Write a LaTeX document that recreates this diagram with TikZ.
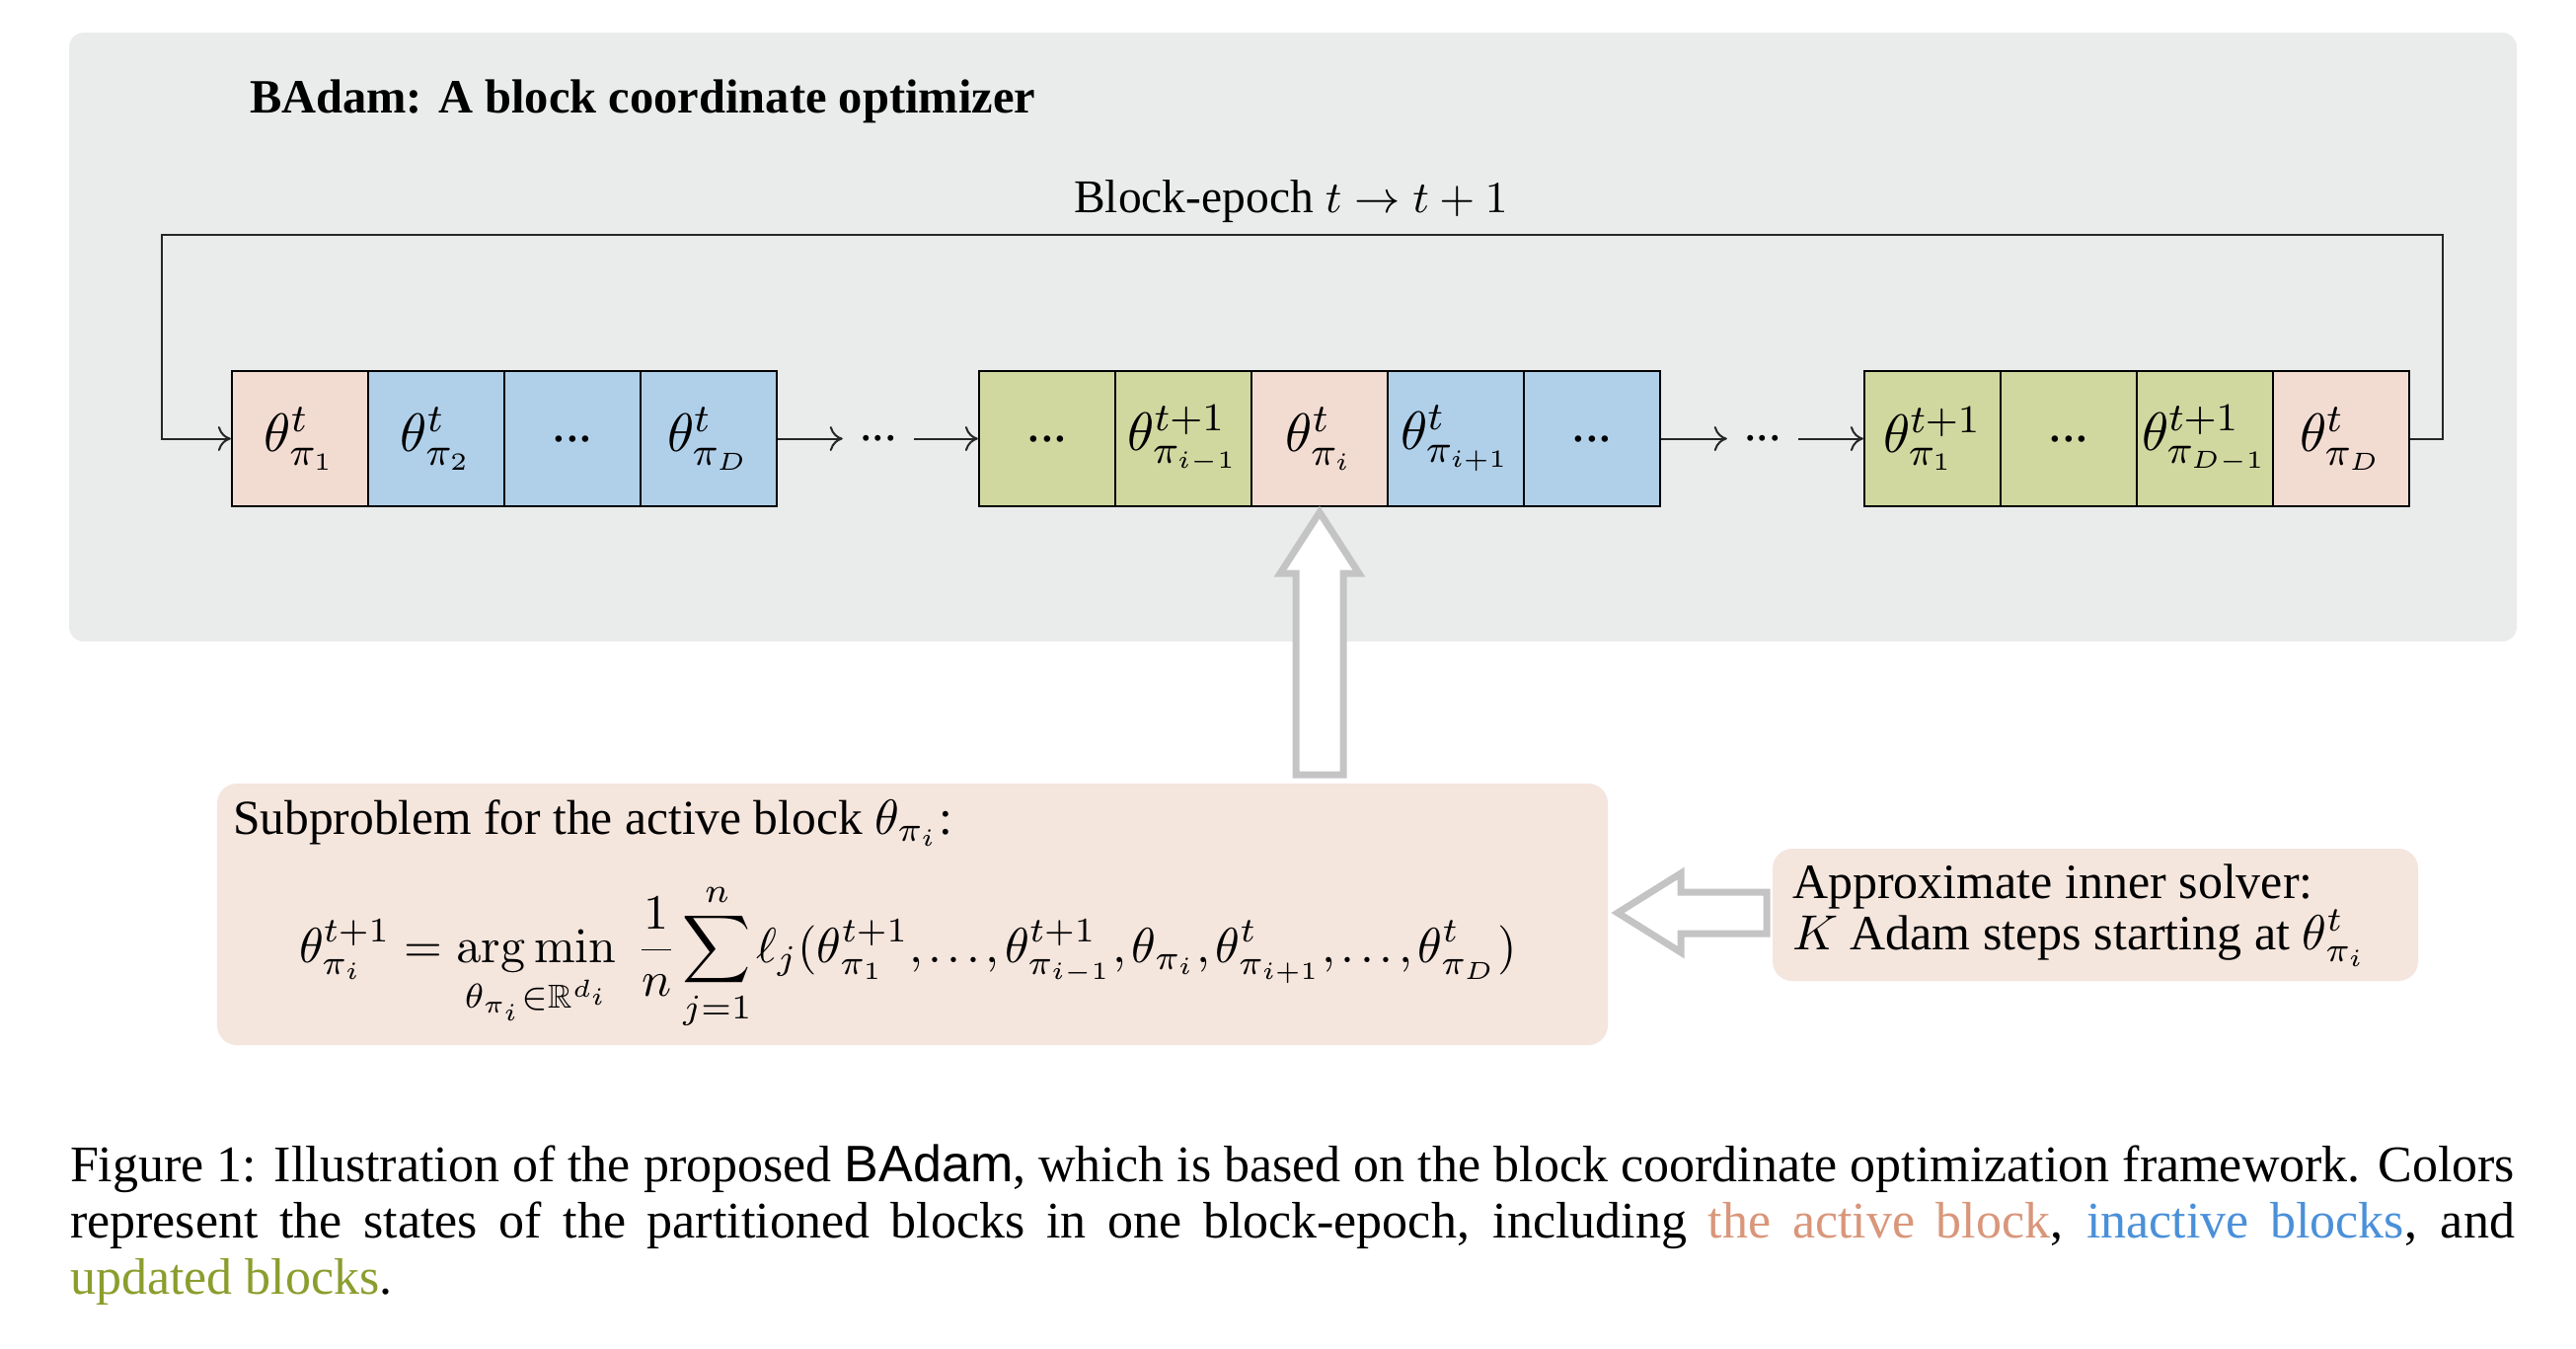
\documentclass[tikz,border=0pt]{standalone}
\usepackage{amsmath,amssymb}
\usepackage[no-math]{fontspec}
\setmainfont{Liberation Serif}
\newfontfamily\capsans{Liberation Sans}
\usetikzlibrary{arrows.meta,calc}
\definecolor{bggray}{RGB}{234,235,235}
\definecolor{cpink}{RGB}{242,220,210}
\definecolor{cblue}{RGB}{176,208,234}
\definecolor{cgreen}{RGB}{208,216,160}
\definecolor{boxpink}{RGB}{244,229,221}
\definecolor{arrgray}{RGB}{196,196,196}
\definecolor{activec}{RGB}{217,150,122}
\definecolor{inactivec}{RGB}{74,144,217}
\definecolor{updatedc}{RGB}{138,158,46}
\tikzset{
  cell/.style={draw=black, line width=0.45pt, minimum width=27.6pt, minimum height=27.4pt, inner sep=0pt, font=\fontsize{11}{13}\selectfont},
  pinkcell/.style={cell, fill=cpink},
  bluecell/.style={cell, fill=cblue},
  greencell/.style={cell, fill=cgreen},
  conn/.style={draw=black!85, line width=0.4pt, -{To[length=2.6pt,width=5pt]}},
  hollow/.style={draw=arrgray, line width=1.4pt, fill=white, line join=miter},
  dotsnode/.style={inner xsep=3.3pt, inner ysep=0pt, font=\fontsize{10}{12}\selectfont},
  softbox/.style={fill=boxpink, rounded corners=4pt, inner sep=0pt},
  txt/.style={inner sep=0pt, anchor=base west},
}
\begin{document}
\begin{tikzpicture}[x=0.2pt,y=-0.2pt]
\useasboundingbox[fill=white] (0,0) rectangle (2610,1366);
% grey panel
\fill[bggray, rounded corners=3pt] (70,33) rectangle (2550,650);
\node[txt, font=\fontsize{9.7}{11}\selectfont\bfseries] (title) at (252,114) {BAdam: A block coordinate optimizer};
\node[inner sep=0pt, anchor=base, font=\fontsize{9.5}{11}\selectfont] (epoch) at (1308,215) {Block-epoch $t \to t+1$};
% group 1
\node[pinkcell]  (a1) at (304,444.5) {$\theta^{t}_{\pi_1}$};
\node[bluecell]  (a2) at (442,444.5) {$\theta^{t}_{\pi_2}$};
\node[bluecell]  (a3) at (580,444.5) {...};
\node[bluecell]  (a4) at (718,444.5) {$\theta^{t}_{\pi_D}$};
% group 2
\node[greencell] (b1) at (1061,444.5) {...};
\node[greencell] (b2) at (1199,444.5) {$\theta^{t+1}_{\pi_{i-1}}$};
\node[pinkcell]  (b3) at (1337,444.5) {$\theta^{t}_{\pi_i}$};
\node[bluecell]  (b4) at (1475,444.5) {$\theta^{t}_{\pi_{i+1}}$};
\node[bluecell]  (b5) at (1613,444.5) {...};
% group 3
\node[greencell] (c1) at (1958,444.5) {$\theta^{t+1}_{\pi_1}$};
\node[greencell] (c2) at (2096,444.5) {...};
\node[greencell] (c3) at (2234,444.5) {$\theta^{t+1}_{\pi_{D-1}}$};
\node[pinkcell]  (c4) at (2372,444.5) {$\theta^{t}_{\pi_D}$};
% dots between groups
\node[dotsnode] (d1) at (890,444.5) {...};
\node[dotsnode] (d2) at (1786,444.5) {...};
\draw[conn] (a4.east) -- (d1.west);
\draw[conn] (d1.east) -- (b1.west);
\draw[conn] (b5.east) -- (d2.west);
\draw[conn] (d2.east) -- (c1.west);
% loop
\coordinate (loopR) at (2475,238);
\coordinate (loopL) at (164,238);
\draw[conn] (c4.east) -| (loopR) -- (loopL) |- (a1.west);
% subproblem box
\node[softbox, minimum width=281.8pt, minimum height=53pt] (sub) at (924.5,926.5) {};
\node[txt, font=\fontsize{9.9}{12}\selectfont] (subt) at (235,845) {Subproblem for the active block $\theta_{\pi_i}$:};
\node[txt, font=\fontsize{9.6}{12}\selectfont] (eq) at (302,975) {\thinmuskip=2mu $\displaystyle \theta^{t+1}_{\pi_i} = \operatorname*{arg\mskip3mu min}_{\theta_{\pi_i}\in\mathbb{R}^{d_i}}\; \frac{1}{n}\sum_{j=1}^{n} \ell_j(\theta^{t+1}_{\pi_1},\ldots,\theta^{t+1}_{\pi_{i-1}},\theta_{\pi_i},\theta^{t}_{\pi_{i+1}},\ldots,\theta^{t}_{\pi_D})$};
% approximate solver box
\node[softbox, minimum width=130.8pt, minimum height=26.8pt] (appx) at (2123,927) {};
\node[txt, font=\fontsize{10}{12}\selectfont] (ap1) at (1815,910) {Approximate inner solver:};
\node[txt, font=\fontsize{10}{12}\selectfont] (ap2) at (1815,962) {$K$ Adam steps starting at $\theta^{t}_{\pi_i}$};
% hollow arrow up
\coordinate (tipU) at ($(b3.south)+(0,5)$);
\coordinate (hbU) at ($(tipU)+(0,62)$);
\coordinate (btU) at ($(sub.north -| tipU)+(0,-8)$);
\draw[hollow] (tipU) -- ($(hbU)+(40,0)$) -- ($(hbU)+(24,0)$) -- ($(btU)+(24,0)$) -- ($(btU)+(-24,0)$) -- ($(hbU)+(-24,0)$) -- ($(hbU)+(-40,0)$) -- cycle;
% hollow arrow left
\coordinate (tipL) at ($(sub.east |- appx.west)+(9,-2)$);
\coordinate (hbL) at ($(tipL)+(64,0)$);
\coordinate (btL) at ($(appx.west)+(-5,-2)$);
\draw[hollow] (tipL) -- ($(hbL)+(0,-40)$) -- ($(hbL)+(0,-21)$) -- ($(btL)+(0,-21)$) -- ($(btL)+(0,21)$) -- ($(hbL)+(0,21)$) -- ($(hbL)+(0,40)$) -- cycle;
% caption
\node[txt, font=\fontsize{10.4}{11.4}\selectfont] (cap1) at (70,1197) {\makebox[495.4pt][s]{Figure 1: Illustration of the proposed {\capsans BAdam}, which is based on the block coordinate optimization framework. Colors}};
\node[txt, font=\fontsize{10.4}{11.4}\selectfont] (cap2) at (70,1254) {\makebox[495.4pt][s]{represent the states of the partitioned blocks in one block-epoch, including {\color{activec}the active block}, {\color{inactivec}inactive blocks}, and}};
\node[txt, font=\fontsize{10.4}{11.4}\selectfont] (cap3) at (70,1311) {{\color{updatedc}updated blocks}.};
\end{tikzpicture}
\end{document}
